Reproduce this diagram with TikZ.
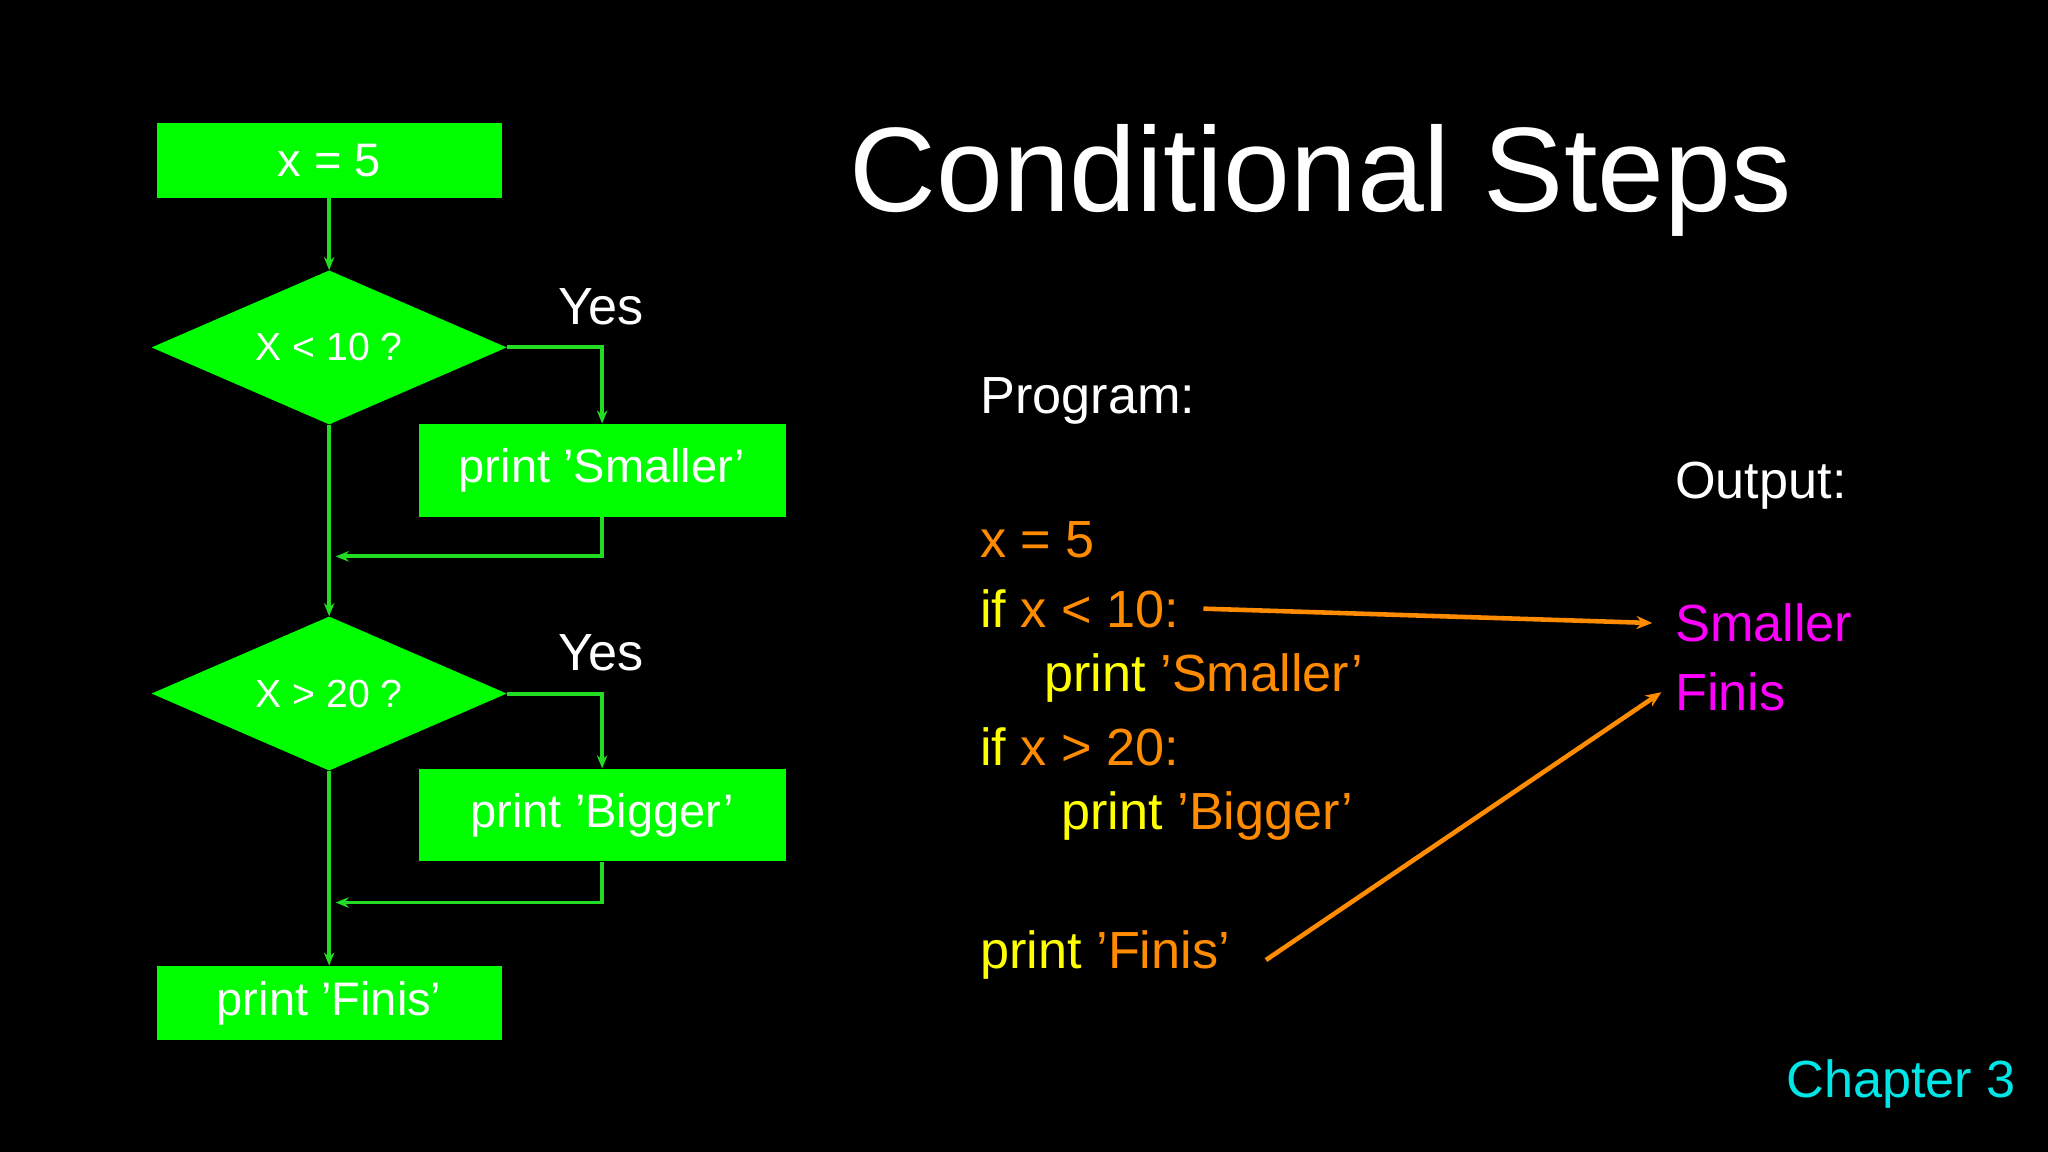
\documentclass[tikz,border=0pt]{standalone}
\usepackage{fontspec}
\setmainfont{Liberation Sans}
\usetikzlibrary{shapes.geometric,arrows.meta}
\definecolor{boxg}{HTML}{00FF00}
\definecolor{lineg}{HTML}{22DD22}
\definecolor{codeo}{HTML}{FF8C00}
\definecolor{codey}{HTML}{FFFF00}
\definecolor{outm}{HTML}{FF00FF}
\definecolor{chap}{HTML}{00E5E5}
\begin{document}
\begin{tikzpicture}[x=1pt,y=-1pt,
  fbox/.style={fill=boxg,draw=none,text=white,font=\fontsize{36}{40}\selectfont,inner sep=0},
  fdia/.style={diamond,fill=boxg,draw=none,text=white,font=\fontsize{30}{34}\selectfont,minimum width=272pt,minimum height=118pt,inner sep=0,aspect=2.3},
  flow/.style={draw=lineg,line width=3pt,-{Stealth[length=10pt,width=8pt]}},
  code/.style={anchor=west,font=\fontsize{40}{44}\selectfont},
  oarrow/.style={draw=codeo,line width=3.5pt,-{Stealth[length=12pt,width=10pt]}}]
\fill[black] (0,0) rectangle (1568,882);
\useasboundingbox (0,0) rectangle (1568,882);
% flowchart
\node[fbox,minimum width=264pt,minimum height=57pt] (a) at (252,123) {x = 5};
\node[fdia] (d1) at (252,266) {X < 10 ?};
\node[fbox,minimum width=281pt,minimum height=71pt] (s) at (461,360) {print 'Smaller'};
\node[fdia] (d2) at (252,531) {X > 20 ?};
\node[fbox,minimum width=281pt,minimum height=71pt] (b) at (461,624) {print 'Bigger'};
\node[fbox,minimum width=264pt,minimum height=57pt] (f) at (252,768) {print 'Finis'};
\coordinate (j1) at (252,426);
\coordinate (j2) at (252,691);
\draw[flow] (a) -- (d1.north);
\draw[flow] (d1.east) -| (s.north);
\draw[flow] (s.south) |- ([xshift=5pt]j1);
\draw[flow] (d1.south) -- (d2.north);
\draw[flow] (d2.east) -| (b.north);
\draw[flow] (b.south) |- ([xshift=5pt]j2);
\draw[flow] (d2.south) -- (f.north);
\node[text=white,font=\fontsize{40}{44}\selectfont] (y1) at (460,235) {Yes};
\node[text=white,font=\fontsize{40}{44}\selectfont] (y2) at (460,500) {Yes};
% title
\node[text=white,font=\fontsize{92}{100}\selectfont] (t) at (1011,138) {Conditional Steps};
% program
\node[code,text=white] (p) at (747,307) {Program:};
\node[code,text=codeo] (l1) at (747,413) {x = 5};
\node[code] (l2) at (747,466) {\textcolor{codey}{if} \textcolor{codeo}{x < 10:}};
\node[code] (l3) at (796,519) {\textcolor{codey}{print} \textcolor{codeo}{'Smaller’}};
\node[code] (l4) at (747,572) {\textcolor{codey}{if} \textcolor{codeo}{x > 20:}};
\node[code] (l5) at (809,625) {\textcolor{codey}{print} \textcolor{codeo}{'Bigger'}};
\node[code] (l6) at (747,731) {\textcolor{codey}{print} \textcolor{codeo}{'Finis'}};
\node[code,text=white] (o) at (1279,372) {Output:};
\node[code,text=outm] (o1) at (1279,477) {Smaller};
\node[code,text=outm] (o2) at (1279,530) {Finis};
\coordinate (e1) at (1265,477);
\coordinate (e2) at (1272,530);
\draw[oarrow] ([xshift=-5pt]l2.east) ++(20,0) -- (e1);
\draw[oarrow] ([xshift=24pt,yshift=-4pt]l6.east) -- (e2);
\node[anchor=east,text=chap,font=\fontsize{40}{44}\selectfont] (c) at (1547,830) {Chapter 3};
\end{tikzpicture}
\end{document}
